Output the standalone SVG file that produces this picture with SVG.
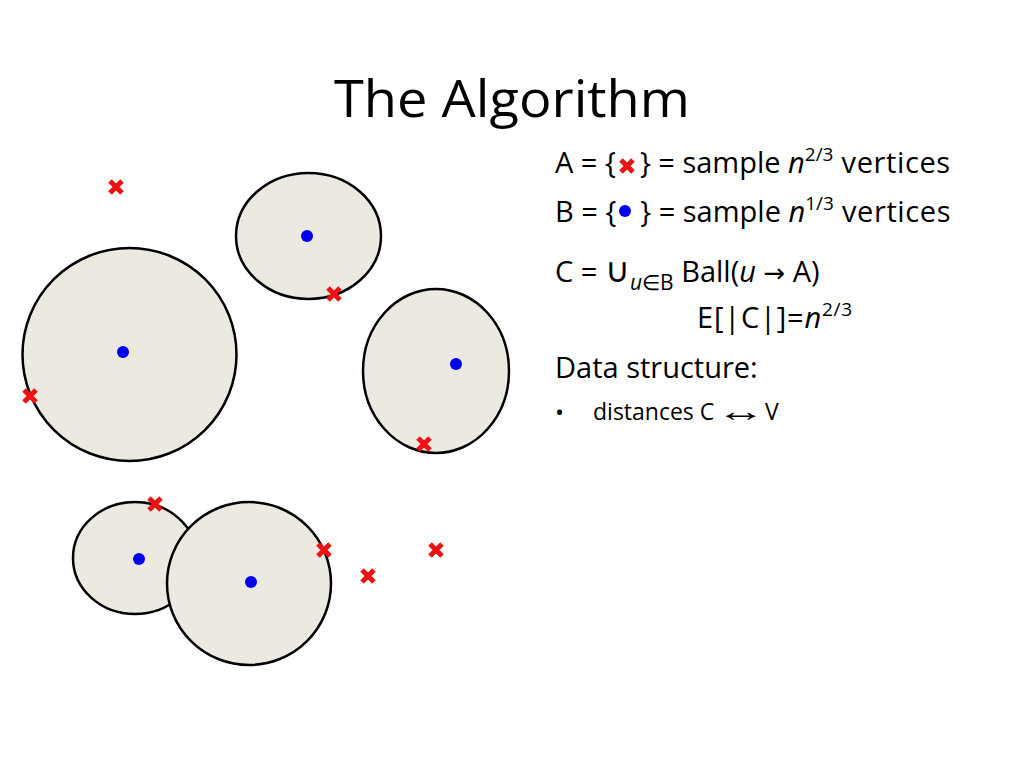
<svg xmlns="http://www.w3.org/2000/svg" width="1024" height="768" viewBox="0 0 1024 768">
<defs>
<style>
.ball{fill:#ebe9e0;stroke:#000;stroke-width:2.5}
.dot{fill:#0000ee}
.x{stroke:#ee1111;stroke-width:5;stroke-linecap:butt}
text{font-family:"Open Sans","Liberation Sans",sans-serif;fill:#000}
.ar{font-family:"DejaVu Sans",sans-serif}
.ar2{font-family:"Liberation Sans","DejaVu Sans",sans-serif}
</style>
<g id="xm"><path class="x" d="M-6,-6L6,6M6,-6L-6,6"/></g>
</defs>
<rect width="1024" height="768" fill="#fff"/>
<text x="512" y="117" font-size="52" text-anchor="middle" textLength="356" lengthAdjust="spacingAndGlyphs">The Algorithm</text>

<g id="ball1"><ellipse class="ball" cx="308.5" cy="236" rx="72.5" ry="63"/><circle class="dot" cx="307" cy="236" r="6"/></g>
<g id="ball2"><ellipse class="ball" cx="129.5" cy="354.5" rx="107" ry="106.5"/><circle class="dot" cx="123" cy="352" r="6"/></g>
<g id="ball3"><ellipse class="ball" cx="436" cy="371" rx="73" ry="82"/><circle class="dot" cx="456" cy="364" r="6"/></g>
<g id="ball4"><ellipse class="ball" cx="135" cy="558" rx="62" ry="56"/><circle class="dot" cx="139" cy="559" r="6"/></g>
<g id="ball5"><ellipse class="ball" cx="249" cy="583.5" rx="82" ry="81.5"/><circle class="dot" cx="251" cy="582" r="6"/></g>

<g id="crosses">
<use href="#xm" x="116" y="187"/>
<use href="#xm" x="334" y="294"/>
<use href="#xm" x="30" y="396"/>
<use href="#xm" x="424" y="444"/>
<use href="#xm" x="155" y="504"/>
<use href="#xm" x="324" y="550"/>
<use href="#xm" x="436" y="550"/>
<use href="#xm" x="368" y="576"/>
</g>

<g id="text" font-size="29">
<text x="555" y="173">A = {<tspan dx="24">} = sample </tspan><tspan font-style="italic">n</tspan><tspan font-size="19" dy="-12">2/3</tspan><tspan dy="12" letter-spacing="0.6"> vertices</tspan></text>
<use href="#xm" x="627" y="166"/>
<text x="555" y="222">B = {<tspan dx="24">} = sample </tspan><tspan font-style="italic">n</tspan><tspan font-size="19" dy="-12">1/3</tspan><tspan dy="12" letter-spacing="0.6"> vertices</tspan></text>
<circle class="dot" cx="625" cy="211" r="6"/>
<text x="555" y="282">C = <tspan font-size="34">∪</tspan><tspan font-size="21" dy="8" font-style="italic">u</tspan><tspan font-size="21">∈B</tspan><tspan dy="-8"> Ball(</tspan><tspan font-style="italic">u</tspan> <tspan class="ar" font-size="26">→</tspan> A)</text>
<text x="697" y="328" letter-spacing="0.8">E[|C|]=<tspan font-style="italic">n</tspan><tspan font-size="19" dy="-12">2/3</tspan></text>
<text x="555" y="378">Data structure:</text>
<text x="555" y="421" font-size="24">•</text>
<text x="593" y="420" font-size="23">distances C</text>
<text class="ar2" font-size="30" transform="translate(716,421) scale(1.65,1)">↔</text>
<text x="765" y="420" font-size="23">V</text>
</g>
</svg>
